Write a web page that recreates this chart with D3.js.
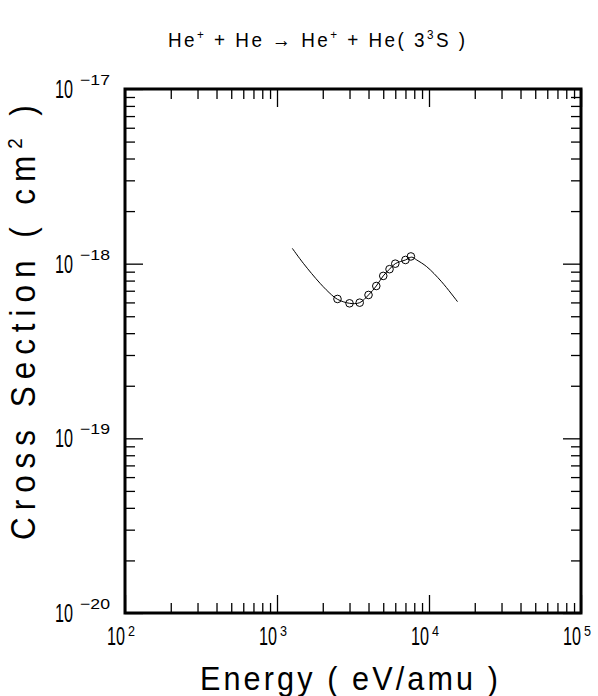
<!DOCTYPE html>
<html><head><meta charset="utf-8">
<script src="https://cdn.jsdelivr.net/npm/d3@7"></script>
<style>
html,body{margin:0;padding:0;background:#fff;}
svg{display:block;}
text{font-family:"Liberation Sans","DejaVu Sans",sans-serif;fill:#000;}
</style></head>
<body>
<svg id="chart" width="598" height="696"></svg>
<script>
// ---- data ----
const xDecades = [2, 3, 4, 5];          // 10^2 .. 10^5 eV/amu
const yDecades = [-20, -19, -18, -17];  // 10^-20 .. 10^-17 cm^2
const curveEnergy = [1260, 1490, 1920, 2290, 2500, 3000, 3500, 4000, 4500, 5000, 5500, 6000, 7000, 7700, 8300, 9660, 12100, 15400];
const curveSigma  = [1.225e-18, 1.005e-18, 7.72e-19, 6.62e-19, 6.25e-19, 5.93e-19, 5.98e-19, 6.62e-19, 7.45e-19, 8.51e-19, 9.3e-19, 1.0e-18, 1.05e-18, 1.09e-18, 1.05e-18, 9.61e-19, 7.88e-19, 6.06e-19];
const pointEnergy = [2500, 3000, 3500, 4000, 4500, 5000, 5500, 6000, 7000, 7600];
const pointSigma  = [6.28e-19, 5.93e-19, 5.98e-19, 6.62e-19, 7.45e-19, 8.51e-19, 9.3e-19, 1.0e-18, 1.05e-18, 1.10e-18];

const svg = d3.select("#chart");
const L = 125, R = 581, T = 89, B = 613;
const x = d3.scaleLog().domain([1e2, 1e5]).range([L, R]);
const y = d3.scaleLog().domain([1e-20, 1e-17]).range([B, T]);

function minorTicks(lo, hi) {
  const out = [];
  for (let e = lo; e < hi; e++) for (let k = 2; k <= 9; k++) out.push(k * Math.pow(10, e));
  return out;
}
const xMajor = xDecades.map(e => Math.pow(10, e));
const yMajor = yDecades.map(e => Math.pow(10, e));
const xMinor = minorTicks(2, 5);
const yMinor = minorTicks(-20, -17);

function tickAxis(gen, vals, size, transform) {
  const g = svg.append("g").attr("transform", transform)
    .call(gen.tickValues(vals).tickSize(size).tickFormat(""));
  g.select(".domain").remove();
  g.selectAll("line").attr("stroke", "#000").attr("stroke-width", 1.3);
  return g;
}
const MAJ = 18, MIN = 10;
tickAxis(d3.axisBottom(x), xMinor, -MIN, `translate(0,${B})`);
tickAxis(d3.axisBottom(x), xMajor, -MAJ, `translate(0,${B})`);
tickAxis(d3.axisTop(x), xMinor, -MIN, `translate(0,${T})`);
tickAxis(d3.axisTop(x), xMajor, -MAJ, `translate(0,${T})`);
tickAxis(d3.axisLeft(y), yMinor, -MIN, `translate(${L},0)`);
tickAxis(d3.axisLeft(y), yMajor, -MAJ, `translate(${L},0)`);
tickAxis(d3.axisRight(y), yMinor, -MIN, `translate(${R},0)`);
tickAxis(d3.axisRight(y), yMajor, -MAJ, `translate(${R},0)`);

// frame
svg.append("rect").attr("x", L).attr("y", T).attr("width", R - L).attr("height", B - T)
  .attr("fill", "none").attr("stroke", "#000").attr("stroke-width", 3);

// curve
const curveData = curveEnergy.map((e, i) => [e, curveSigma[i]]);
svg.append("path").datum(curveData)
  .attr("d", d3.line().x(d => x(d[0])).y(d => y(d[1])).curve(d3.curveCatmullRom))
  .attr("fill", "none").attr("stroke", "#000").attr("stroke-width", 1);

// points
svg.selectAll("circle.pt").data(pointEnergy.map((e, i) => [e, pointSigma[i]]))
  .enter().append("circle").attr("class", "pt")
  .attr("cx", d => x(d[0])).attr("cy", d => y(d[1])).attr("r", 3.8)
  .attr("fill", "none").attr("stroke", "#000").attr("stroke-width", 1);

// text helper: squeeze/stretch a string horizontally to an exact width
function fitText(str, px, py, size, width) {
  const t = svg.append("text").attr("font-size", size).text(str);
  const len = t.node().getComputedTextLength();
  t.attr("transform", `translate(${px},${py}) scale(${width / len},1)`);
  return t;
}
// letter-spaced text built from parts [{s, sup}], fit to width
function spacedText(parts, px, py, size, supSize, supRise, width, sx, rotate) {
  const t = svg.append("text").attr("font-size", size);
  parts.forEach(p => {
    const ts = t.append("tspan").text(p.s);
    if (p.sup) ts.attr("font-size", supSize).attr("dy", -supRise);
    else if (p.after) ts.attr("dy", supRise);
  });
  const len = t.node().getComputedTextLength() * sx;
  const n = parts.reduce((a, p) => a + p.s.length, 0);
  const ls = (width - len) / (n - 1) / sx;
  t.attr("letter-spacing", ls);
  t.attr("transform", `translate(${px},${py})${rotate ? " rotate(-90)" : ""} scale(${sx},1)`);
  return t;
}

// x tick labels
xDecades.forEach(e => {
  const px = x(Math.pow(10, e));
  fitText("10", px - 18, 645, 25, 18);
  fitText(String(e), px + 3, 636, 15, 7);
});
// y tick labels
yDecades.forEach(e => {
  const py = y(Math.pow(10, e));
  fitText("10", 55, py + 9, 25, 18);
  fitText("\u2212" + String(-e), 80, py - 4, 15, 30);
});

// title
spacedText([
  {s: "He"}, {s: "+", sup: true}, {s: " +  He  \u2192  He", after: true},
  {s: "+", sup: true}, {s: " +  He( 3", after: true}, {s: "3", sup: true}, {s: "S )", after: true}
], 168, 47, 21, 13, 8, 307, 0.9, false);

// axis titles
spacedText([{s: "Energy ( eV/amu )"}], 200, 690, 34, 20, 12, 298, 0.9, false);
spacedText([{s: "Cross Section ( cm"}, {s: "2", sup: true}, {s: " )", after: true}],
  35, 540, 35, 21, 13, 435, 0.9, true);
</script>
</body></html>
